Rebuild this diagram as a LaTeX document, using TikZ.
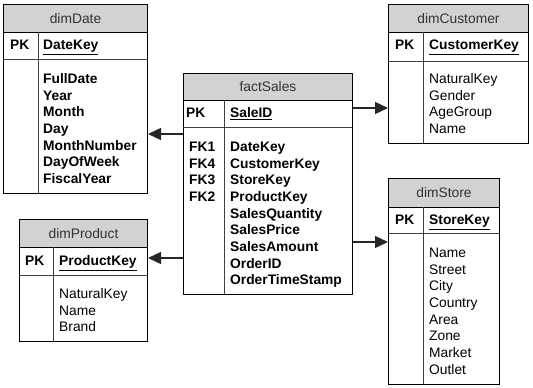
\documentclass[tikz,border=0pt]{standalone}
\usepackage{fontspec}
\setmainfont{Liberation Sans}
\usetikzlibrary{arrows.meta}

\newcommand\tabfont{\fontsize{13.8}{16.6}\selectfont}

\begin{document}
\begin{tikzpicture}[x=1pt, y=-1pt, font=\tabfont,
  tbl/.style={draw=black, line width=1pt, anchor=north west, inner sep=0pt},
  hdr/.style={tbl, fill=gray!35, text=black!80, text height=9.9pt, text depth=0pt},
  key/.style={anchor=base west, inner sep=0pt, font=\tabfont\bfseries},
  col/.style={anchor=base west, inner sep=0pt},
  sep/.style={draw=black!75, line width=1pt},
  fk/.style={draw=black!85, line width=1.4pt, -{Triangle[length=13pt, width=12pt]}}]
  \useasboundingbox (0,0) rectangle (533,388);

  % dimDate
  \node[tbl, minimum width=144, minimum height=189] (dimDate) at (3,4) {};
  \node[hdr, minimum width=144, minimum height=28] (dimDate-t) at (3,4) {dimDate};
  \draw[sep] (3,59) -- (147,59);
  \draw[sep] (38,32) -- (38,193);
  \node[key] (dimDate-pk) at (10,49.8) {PK};
  \node[key] (dimDate-key) at (43,49.8) {\underline{DateKey}};
  \foreach \t [count=\i] in {FullDate,Year,Month,Day,MonthNumber,DayOfWeek,FiscalYear}
    \node[key] (dimDate-\i) at (43,{66.9+16.67*\i}) {\t};

  % factSales
  \node[tbl, minimum width=169, minimum height=221] (factSales) at (183,73) {};
  \node[hdr, minimum width=169, minimum height=27] (factSales-t) at (183,73) {factSales};
  \draw[sep] (183,127) -- (352,127);
  \draw[sep] (224,100) -- (224,294);
  \node[key] (factSales-pk) at (186,117.8) {PK};
  \node[key] (factSales-key) at (230,117.8) {\underline{SaleID}};
  \foreach \f [count=\i] in {FK1,FK4,FK3,FK2}
    \node[key] (factSales-fk\i) at (189,{134.8+16.67*\i}) {\f};
  \foreach \t [count=\i] in {DateKey,CustomerKey,StoreKey,ProductKey,SalesQuantity,SalesPrice,SalesAmount,OrderID,OrderTimeStamp}
    \node[key] (factSales-\i) at (230,{134.8+16.67*\i}) {\t};

  % dimCustomer
  \node[tbl, minimum width=140, minimum height=139] (dimCustomer) at (388,4) {};
  \node[hdr, minimum width=140, minimum height=28] (dimCustomer-t) at (388,4) {dimCustomer};
  \draw[sep] (388,61) -- (528,61);
  \draw[sep] (423,32) -- (423,143);
  \node[key] (dimCustomer-pk) at (395,49.8) {PK};
  \node[key] (dimCustomer-key) at (429,49.8) {\underline{CustomerKey}};
  \foreach \t [count=\i] in {NaturalKey,Gender,AgeGroup,Name}
    \node[col] (dimCustomer-\i) at (429,{66.9+16.67*\i}) {\t};

  % dimStore
  \node[tbl, minimum width=111, minimum height=206] (dimStore) at (388,178) {};
  \node[hdr, minimum width=111, minimum height=29] (dimStore-t) at (388,178) {dimStore};
  \draw[sep] (388,233) -- (499,233);
  \draw[sep] (423,207) -- (423,384);
  \node[key] (dimStore-pk) at (395,224.8) {PK};
  \node[key] (dimStore-key) at (429,224.8) {\underline{StoreKey}};
  \foreach \t [count=\i] in {Name,Street,City,Country,Area,Zone,Market,Outlet}
    \node[col] (dimStore-\i) at (429,{240.8+16.67*\i}) {\t};

  % dimProduct
  \node[tbl, minimum width=128, minimum height=122] (dimProduct) at (19,219) {};
  \node[hdr, minimum width=128, minimum height=28] (dimProduct-t) at (19,219) {dimProduct};
  \draw[sep] (19,275) -- (147,275);
  \draw[sep] (53,247) -- (53,341);
  \node[key] (dimProduct-pk) at (25,265.8) {PK};
  \node[key] (dimProduct-key) at (59,265.8) {\underline{ProductKey}};
  \foreach \t [count=\i] in {NaturalKey,Name,Brand}
    \node[col] (dimProduct-\i) at (59,{281.8+16.67*\i}) {\t};

  % foreign keys
  \draw[fk] (factSales.west |- 0,134) -- (dimDate.east |- 0,134);
  \draw[fk] (factSales.west |- 0,258) -- (dimProduct.east |- 0,258);
  \draw[fk] (factSales.east |- 0,108) -- (dimCustomer.west |- 0,108);
  \draw[fk] (factSales.east |- 0,242) -- (dimStore.west |- 0,242);
\end{tikzpicture}
\end{document}
